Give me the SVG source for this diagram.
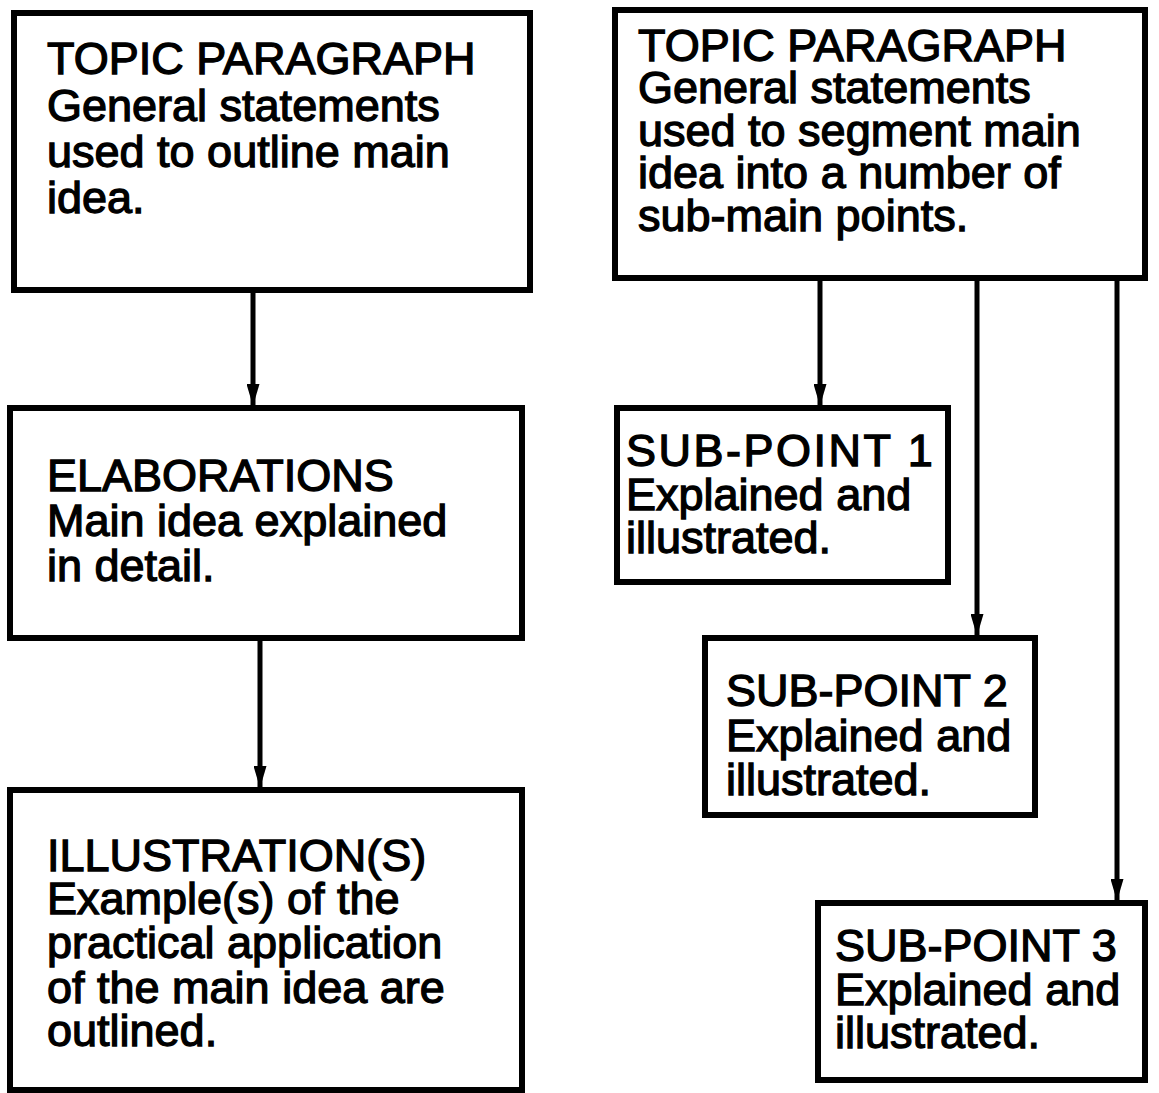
<svg xmlns="http://www.w3.org/2000/svg" width="1159" height="1093" viewBox="0 0 1159 1093">
  <style>
    .box { fill: #ffffff; stroke: #000000; stroke-width: 6; }
    .t { font-family: "Liberation Sans", Arial, Helvetica, sans-serif; font-size: 45px; fill: #000000; stroke: #000000; stroke-width: 1.3px; }
    .conn { stroke: #000000; stroke-width: 5; fill: none; marker-end: url(#arrow); }
  </style>
  <defs>
    <marker id="arrow" viewBox="0 0 22 13" refX="22" refY="6.5" markerWidth="22" markerHeight="13" markerUnits="userSpaceOnUse" orient="auto">
      <path d="M0,0 L22,6.5 L0,13 z" fill="#000000"/>
    </marker>
  </defs>
  <rect x="0" y="0" width="1159" height="1093" fill="#ffffff"/>

  <g id="connectors">
    <line class="conn" x1="253" y1="290" x2="253" y2="406"/>
    <line class="conn" x1="260" y1="638" x2="260" y2="788"/>
    <line class="conn" x1="820" y1="278" x2="820" y2="406"/>
    <line class="conn" x1="977" y1="278" x2="977" y2="636"/>
    <line class="conn" x1="1117" y1="278" x2="1117" y2="901"/>
  </g>

  <g id="topic-left">
    <rect class="box" x="14" y="13" width="516" height="277"/>
    <text class="t" x="47" y="74">TOPIC PARAGRAPH</text>
    <text class="t" x="47" y="121">General statements</text>
    <text class="t" x="47" y="167">used to outline main</text>
    <text class="t" x="47" y="213">idea.</text>
  </g>

  <g id="elaborations">
    <rect class="box" x="10" y="408" width="512" height="230"/>
    <text class="t" x="47" y="491">ELABORATIONS</text>
    <text class="t" x="47" y="536">Main idea explained</text>
    <text class="t" x="47" y="581">in detail.</text>
  </g>

  <g id="illustrations">
    <rect class="box" x="10" y="790" width="512" height="300"/>
    <text class="t" x="47" y="871">ILLUSTRATION(S)</text>
    <text class="t" x="47" y="914">Example(s) of the</text>
    <text class="t" x="47" y="958">practical application</text>
    <text class="t" x="47" y="1003">of the main idea are</text>
    <text class="t" x="47" y="1046">outlined.</text>
  </g>

  <g id="topic-right">
    <rect class="box" x="615" y="10" width="530" height="268"/>
    <text class="t" x="638" y="61">TOPIC PARAGRAPH</text>
    <text class="t" x="638" y="103">General statements</text>
    <text class="t" x="638" y="146">used to segment main</text>
    <text class="t" x="638" y="188">idea into a number of</text>
    <text class="t" x="638" y="231">sub-main points.</text>
  </g>

  <g id="subpoint-1">
    <rect class="box" x="617" y="408" width="331" height="174"/>
    <text class="t" x="626" y="466" letter-spacing="2.5">SUB-POINT 1</text>
    <text class="t" x="626" y="510">Explained and</text>
    <text class="t" x="626" y="553">illustrated.</text>
  </g>

  <g id="subpoint-2">
    <rect class="box" x="705" y="638" width="330" height="177"/>
    <text class="t" x="726" y="706">SUB-POINT 2</text>
    <text class="t" x="726" y="751">Explained and</text>
    <text class="t" x="726" y="795">illustrated.</text>
  </g>

  <g id="subpoint-3">
    <rect class="box" x="818" y="903" width="327" height="177"/>
    <text class="t" x="835" y="961">SUB-POINT 3</text>
    <text class="t" x="835" y="1005">Explained and</text>
    <text class="t" x="835" y="1048">illustrated.</text>
  </g>
</svg>
